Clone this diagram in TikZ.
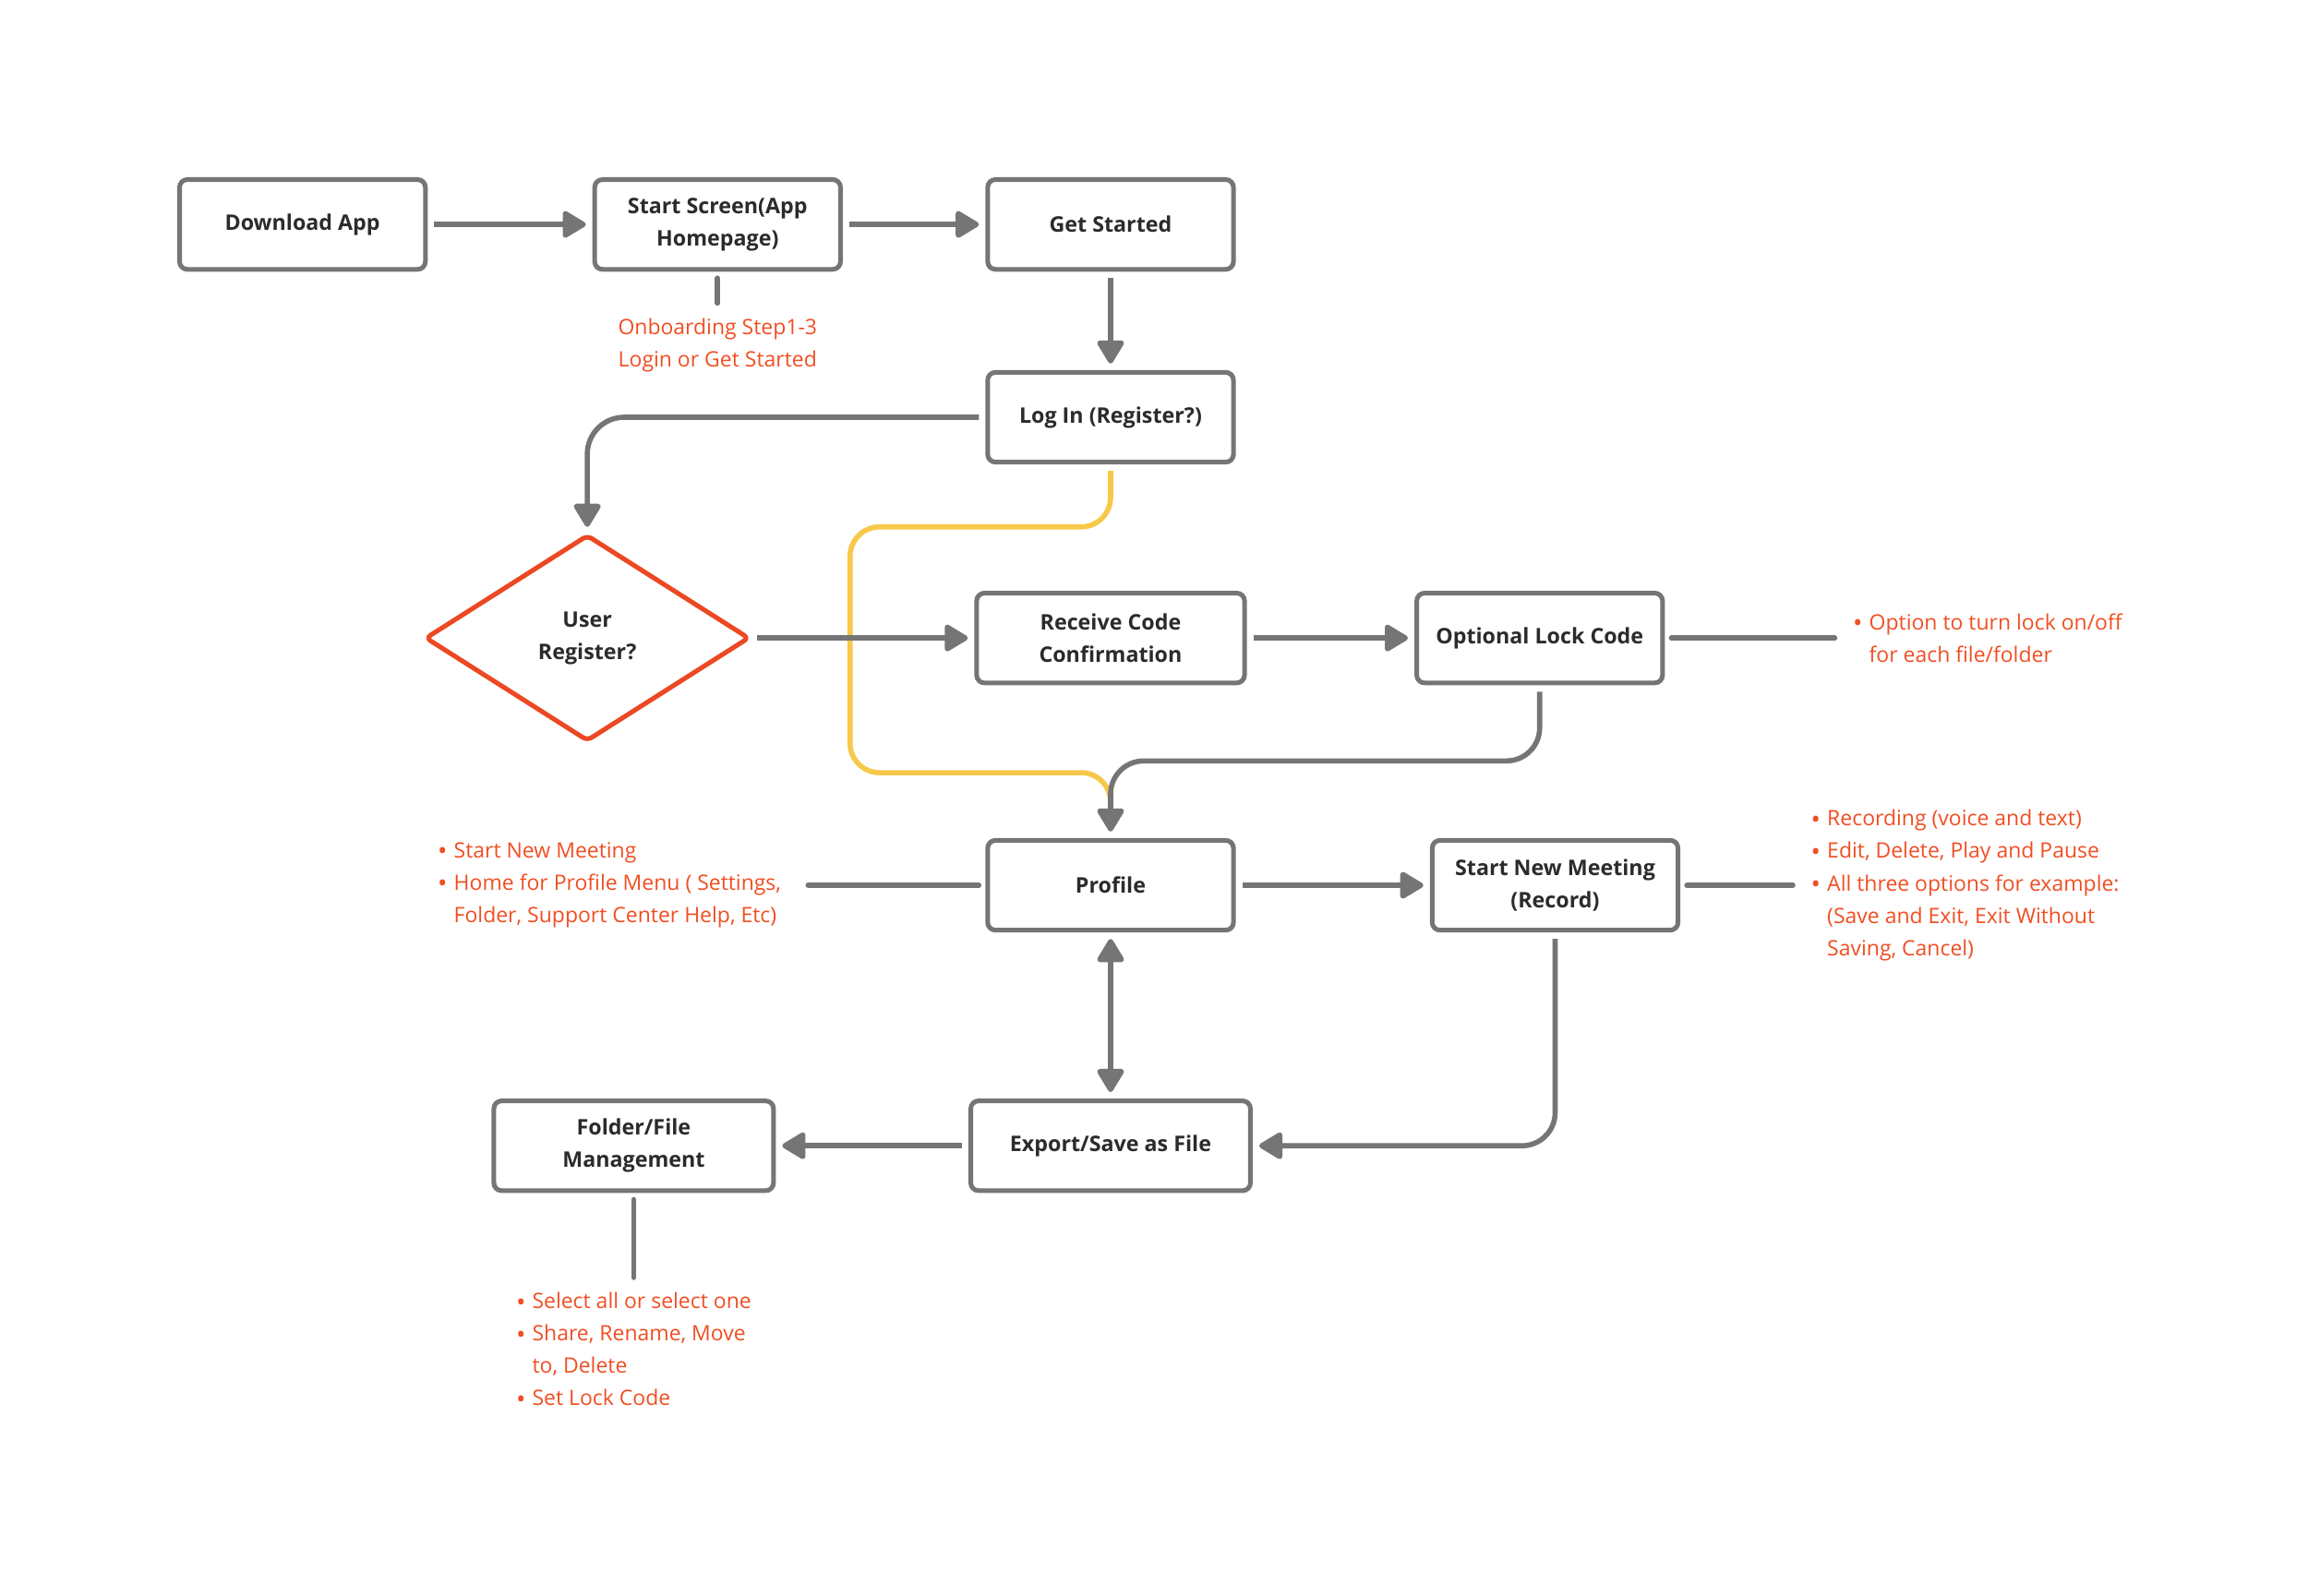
\documentclass[tikz,border=0pt]{standalone}
\usepackage{fontspec}
\setmainfont{Open Sans}
\usepackage{tikz}
\usetikzlibrary{positioning,arrows.meta,shapes.geometric,calc}
\usepackage{xcolor}
\definecolor{linegray}{RGB}{117,117,117}
\definecolor{textdark}{RGB}{43,43,43}
\definecolor{notered}{RGB}{240,78,35}
\definecolor{decred}{RGB}{236,72,34}
\definecolor{flowyellow}{RGB}{248,200,74}
\newcommand{\itm}{\makebox[0.22cm][l]{\raisebox{-0.18ex}{\scalebox{1.2}{\textbullet}}}}
\newcommand{\cnt}{\hspace*{0.22cm}}

\begin{document}
\begin{tikzpicture}[
    box/.style={draw=linegray, line width=1.8pt, outer sep=0pt, rounded corners=3pt, fill=white, minimum width=3.34cm, minimum height=1.22cm, align=center, text=textdark, font=\fontsize{8.3}{12.5}\selectfont\bfseries},
    decision/.style={diamond, draw=decred, line width=1.8pt, outer sep=0pt, rounded corners=2pt, minimum width=4.38cm, minimum height=2.78cm, inner sep=0pt, align=center, text=textdark, font=\fontsize{8.3}{12.5}\selectfont\bfseries},
    note/.style={align=left, inner sep=0pt, text=notered, font=\fontsize{8.2}{12.5}\selectfont},
    arrow/.style={-{Triangle[length=0.35cm, width=0.4cm, round]}, line width=2pt, draw=linegray, shorten >=0.12cm, shorten <=0.12cm},
    darrow/.style={arrow, {Triangle[length=0.35cm, width=0.4cm, round]}-{Triangle[length=0.35cm, width=0.4cm, round]}},
    link/.style={line width=2pt, draw=linegray, line cap=round},
    yline/.style={line width=2pt, draw=flowyellow, rounded corners=0.4cm}
]
    \useasboundingbox (0,0) rectangle (31.36,-21.68);

    % Top row
    \node[box] (dl) at (4.11,-3.05) {Download App};
    \node[box, right=2.3cm of dl] (ss) {Start Screen(App\\Homepage)};
    \node[box, right=2.0cm of ss] (gs) {Get Started};
    \node[note, align=center, below=0.66cm of ss] (obnote) {Onboarding Step1-3\\Login or Get Started};

    % Login and registration
    \node[box, below=1.4cm of gs] (login) {Log In (Register?)};
    \node[box, below=1.78cm of login, minimum width=3.64cm] (rc) {Receive Code\\Confirmation};
    \node[decision, left=3.1cm of rc] (reg) {User\\Register?};
    \node[box, right=2.34cm of rc] (olc) {Optional Lock Code};
    \node[note, right=2.58cm of olc] (lknote) {\itm Option to turn lock on/off\\ \cnt for each file/folder};

    % Profile
    \node[box, below=2.14cm of rc] (prof) {Profile};
    \node[note, left=2.8cm of prof] (profnote) {\itm Start New Meeting\\ \itm Home for Profile Menu ( Settings,\\ \cnt Folder, Support Center Help, Etc)};
    \node[box, right=2.7cm of prof] (snm) {Start New Meeting\\(Record)};
    \node[note, right=1.8cm of snm] (snmnote) {\itm Recording (voice and text)\\ \itm Edit, Delete, Play and Pause\\ \itm All three options for example:\\ \cnt (Save and Exit, Exit Without\\ \cnt Saving, Cancel)};

    % Export and files
    \node[box, below=2.32cm of prof, minimum width=3.8cm] (exp) {Export/Save as File};
    \node[box, left=2.68cm of exp, minimum width=3.8cm] (ffm) {Folder/File\\Management};
    \node[note, below=1.38cm of ffm] (ffmnote) {\itm Select all or select one\\ \itm Share, Rename, Move\\ \cnt to, Delete\\ \itm Set Lock Code};

    % Arrows
    \draw[arrow] (dl) -- (ss);
    \draw[arrow] (ss) -- (gs);
    \draw[link, shorten <=0.12cm, shorten >=0.2cm] (ss.south) -- (obnote.north);
    \draw[arrow] (gs) -- (login);
    \draw[arrow, rounded corners=0.5cm] (login.west) -| (reg.north);
    \draw[yline, shorten <=0.12cm, shorten >=0.4cm] (login.south) |- ([xshift=1.38cm, yshift=1.51cm]reg.east) |- ([yshift=0.92cm]prof.north) -- (prof.north);
    \draw[arrow] (reg.east) -- (rc.west);
    \draw[arrow] (rc) -- (olc);
    \draw[link, shorten <=0.12cm, shorten >=0.24cm] (olc.east) -- (lknote.west);
    \draw[arrow, rounded corners=0.45cm] (olc.south) |- ([yshift=1.08cm]prof.north) -- (prof.north);
    \draw[link, shorten <=0.36cm, shorten >=0.12cm] (profnote.east) -- (prof.west);
    \draw[arrow] (prof) -- (snm);
    \draw[link, shorten <=0.12cm, shorten >=0.24cm] (snm.east) -- (snmnote.west);
    \draw[arrow, rounded corners=0.45cm] (snm.south) |- (exp.east);
    \draw[darrow] (prof) -- (exp);
    \draw[arrow] (exp) -- (ffm);
    \draw[link, shorten <=0.12cm, shorten >=0.2cm] (ffm.south) -- (ffmnote.north);
\end{tikzpicture}
\end{document}
